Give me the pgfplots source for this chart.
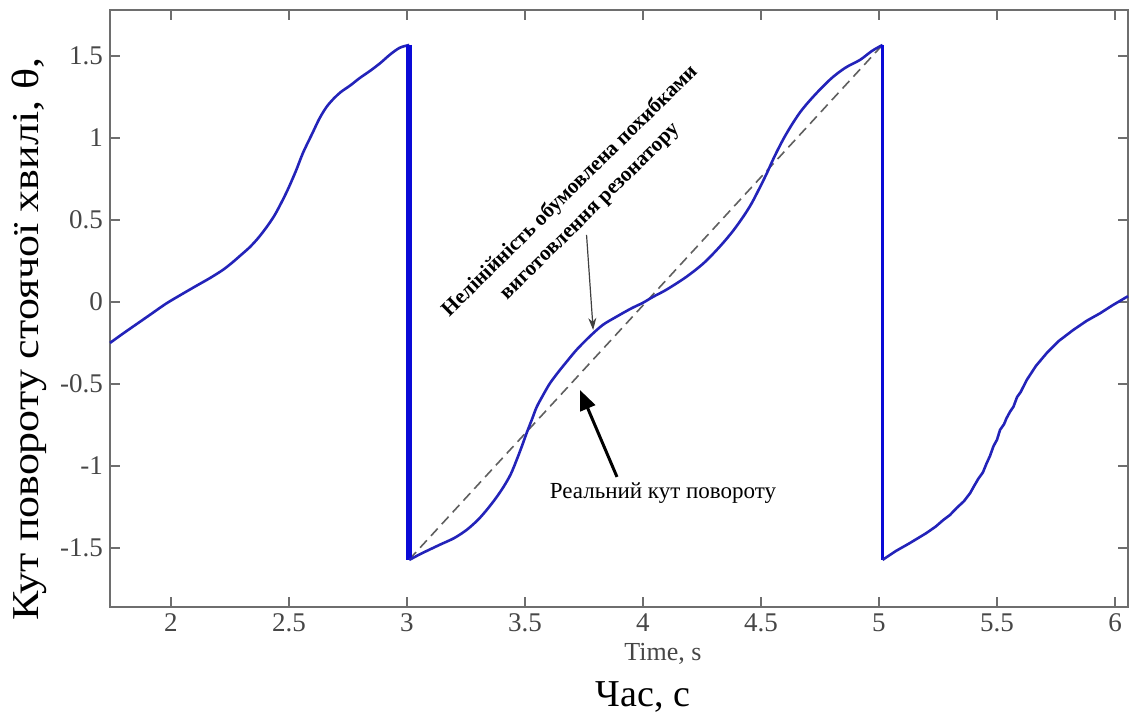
\documentclass[border=0pt]{standalone}
\usepackage{fontspec}
\setmainfont{Liberation Serif}
\usepackage{pgfplots}
\pgfplotsset{compat=1.18}
\usetikzlibrary{arrows.meta}
\definecolor{axisgray}{RGB}{110,110,110}
\definecolor{ticktext}{RGB}{70,70,70}
\definecolor{curveblue}{RGB}{35,35,185}
\definecolor{jumpblue}{RGB}{10,10,215}
\definecolor{idealgray}{RGB}{95,95,95}

\begin{document}
\begin{tikzpicture}
\begin{axis}[
    name=ax,
    scale only axis,
    width=509pt, height=298.5pt,
    xmin=1.742, xmax=6.055, ymin=-1.86, ymax=1.78,
    xtick={2,2.5,3,3.5,4,4.5,5,5.5,6},
    ytick={-1.5,-1,-0.5,0,0.5,1,1.5},
    tick align=inside,
    major tick length=5pt,
    axis line style={axisgray, line width=0.8pt},
    tick style={axisgray, line width=0.8pt},
    ticklabel style={font=\fontsize{13.5}{15}\selectfont, text=ticktext},
    /pgf/number format/assume math mode=true,
    clip=false,
]
    % ideal (linear) angle
    \addplot[idealgray, line width=0.8pt, dash pattern=on 5pt off 3pt]
        coordinates {(3.01,-1.57) (5.015,1.567)};

    % measured angle, first period
    \addplot[curveblue, line width=1.3pt, smooth, tension=0.5] coordinates {
        (1.742,-0.25) (1.80,-0.19) (1.86,-0.13) (1.91,-0.08) (1.98,-0.01)
        (2.05,0.05) (2.11,0.10) (2.165,0.145) (2.22,0.195) (2.26,0.24)
        (2.30,0.29) (2.335,0.335) (2.37,0.39) (2.405,0.455) (2.44,0.53)
        (2.475,0.625) (2.50,0.70) (2.53,0.80) (2.56,0.91) (2.60,1.03)
        (2.63,1.12) (2.66,1.19) (2.69,1.24) (2.72,1.28) (2.76,1.32)
        (2.80,1.365) (2.845,1.41) (2.886,1.455) (2.93,1.51) (2.97,1.55)
        (3.01,1.567)
    };
    \addplot[jumpblue, line width=3pt] coordinates {(3.01,1.567) (3.01,-1.573)};

    % second period
    \addplot[curveblue, line width=1.3pt, smooth, tension=0.5] coordinates {
        (3.01,-1.573) (3.06,-1.535) (3.14,-1.48) (3.20,-1.44) (3.253,-1.39)
        (3.30,-1.33) (3.337,-1.27) (3.375,-1.20) (3.41,-1.126) (3.44,-1.05)
        (3.465,-0.963) (3.487,-0.88) (3.507,-0.80) (3.53,-0.715) (3.55,-0.64)
        (3.58,-0.56) (3.606,-0.496) (3.64,-0.43) (3.677,-0.364) (3.72,-0.29)
        (3.775,-0.21) (3.83,-0.14) (3.888,-0.09) (3.95,-0.04) (4.00,-0.005)
        (4.044,0.032) (4.10,0.075) (4.185,0.154) (4.26,0.24) (4.326,0.338)
        (4.38,0.43) (4.425,0.52) (4.46,0.60) (4.496,0.70) (4.525,0.785)
        (4.555,0.88) (4.59,0.98) (4.624,1.065) (4.665,1.155) (4.708,1.23)
        (4.76,1.31) (4.807,1.374) (4.86,1.43) (4.92,1.476) (4.97,1.53)
        (5.015,1.567)
    };
    \addplot[jumpblue, line width=1.6pt] coordinates {(5.015,1.567) (5.015,-1.573)};

    % third period (noisier trace)
    \addplot[curveblue, line width=1.3pt] coordinates {
        (5.015,-1.573) (5.07,-1.52) (5.131,-1.47) (5.20,-1.41) (5.24,-1.37)
        (5.272,-1.33) (5.30,-1.30) (5.33,-1.255) (5.36,-1.215) (5.386,-1.166)
        (5.40,-1.13) (5.42,-1.08) (5.44,-1.04) (5.456,-0.984) (5.47,-0.94)
        (5.485,-0.88) (5.50,-0.84) (5.513,-0.78) (5.53,-0.745) (5.54,-0.71)
        (5.555,-0.67) (5.57,-0.638) (5.585,-0.58) (5.60,-0.55) (5.626,-0.476)
        (5.665,-0.39) (5.71,-0.313) (5.76,-0.24) (5.823,-0.171) (5.88,-0.115)
        (5.937,-0.069) (5.99,-0.02) (6.055,0.035)
    };

    % annotations
    \draw[black, line width=1.5pt, -{Triangle[length=10pt,width=8pt]}]
        (axis cs:3.89,-1.067) -- (axis cs:3.733,-0.537);
    \node[font=\fontsize{11.5}{13}\selectfont, anchor=center]
        at (axis cs:4.085,-1.165) {Реальний кут повороту};
    \draw[black!75, line width=0.6pt, -{Stealth[length=6pt,width=4pt]}]
        (axis cs:3.761,0.409) -- (axis cs:3.789,-0.171);
    \node[rotate=44.5, align=center, font=\bfseries\fontsize{10.6}{14.2}\selectfont]
        at (axis cs:3.733,0.613)
        {Нелінійність обумовлена похибками\\виготовлення резонатору};

    % axis titles
    \node[rotate=90, anchor=base, font=\fontsize{19}{22}\selectfont]
        at (rel axis cs:-0.0707,0.449) {\scalebox{1.157}[1]{Кут повороту стоячої хвилі, θ,}};
    \node[anchor=base, font=\fontsize{13}{15}\selectfont, text=ticktext]
        at (rel axis cs:0.5432,-0.0888) {Time, s};
    \node[anchor=base, font=\fontsize{19}{22}\selectfont]
        at (rel axis cs:0.5236,-0.166) {Час, с};
\end{axis}
\pgfresetboundingbox
\path[use as bounding box] ([shift={(-55pt,-54pt)}]ax.south west)
    rectangle ([shift={(1pt,5pt)}]ax.north east);
\end{tikzpicture}
\end{document}
